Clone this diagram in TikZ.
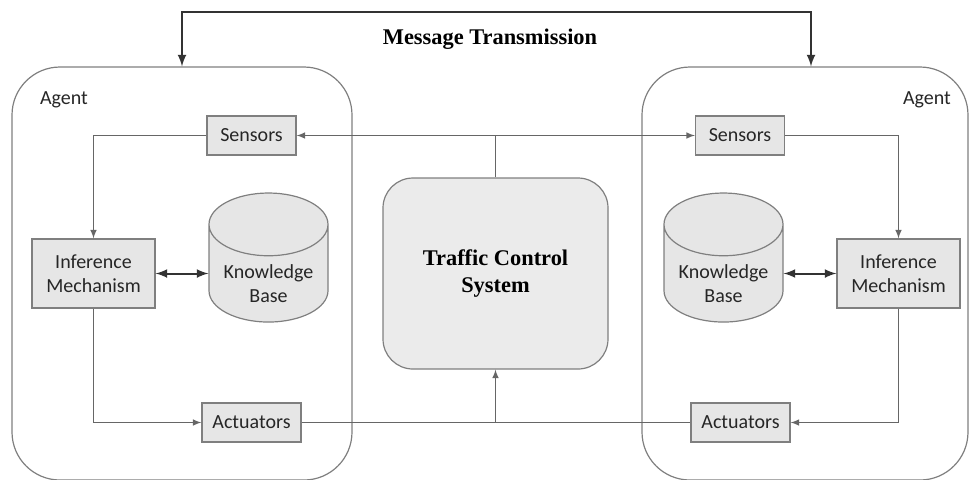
\documentclass[tikz,border=0pt]{standalone}
\usepackage{fontspec}
\setmainfont{Carlito}
\newfontfamily\titlefont{Liberation Serif}
\usepackage{tikz}
\usetikzlibrary{shapes.geometric}

\definecolor{boxfill}{HTML}{E6E6E6}
\definecolor{boxline}{HTML}{7F7F7F}
\definecolor{textgray}{HTML}{262626}

\tikzset{
  agent/.style={draw=boxline, line width=0.6pt, rounded corners=24pt,
    minimum height=206.5pt},
  part/.style={draw=boxline, fill=boxfill, line width=0.6pt, text=textgray,
    font=\fontsize{10}{12}\selectfont, align=center, inner sep=0pt,
    minimum height=19.5pt},
  kbase/.style={cylinder, shape border rotate=90, aspect=0.7, draw=boxline,
    fill=boxfill, line width=0.6pt, text=textgray, align=center,
    font=\fontsize{10}{12}\selectfont, inner sep=0pt,
    minimum width=59.5pt, minimum height=64.5pt},
  tcsbox/.style={draw=boxline, fill=black!8, line width=0.6pt, rounded corners=15pt,
    minimum width=112.5pt, minimum height=95.5pt, align=center,
    font=\titlefont\bfseries\fontsize{11.2}{13.5}\selectfont},
  link/.style={draw=boxline!80!black, line width=0.5pt},
  boldlink/.style={draw=black!80, line width=1pt},
}
\newcommand{\kbtext}{\raisebox{-8.5pt}[0pt][0pt]{\begin{tabular}{@{}c@{}}Knowledge\\Base\end{tabular}}}

\begin{document}
\begin{tikzpicture}[x=0.5pt, y=-0.5pt]
    \useasboundingbox (0,0) rectangle (969,479);
    \clip (0,0) rectangle (969,479);
    % agents
    \node[agent, minimum width=170pt] (agentL) at (182,273.5) {};
    \node[agent, minimum width=163pt] (agentR) at (805,273.5) {};
    \node[text=textgray, font=\fontsize{10}{12}\selectfont] (nameL) at (64,100) {Agent};
    \node[text=textgray, font=\fontsize{10}{12}\selectfont] (nameR) at (927,100) {Agent};

    % left agent
    \node[part, minimum width=44.5pt] (sensL) at (251.5,135.5) {Sensors};
    \node[part, minimum width=61.5pt, minimum height=34.5pt] (infL) at (93.5,273.5) {Inference\\Mechanism};
    \node[kbase] (kbL) at (268.5,273.5) {\kbtext};
    \node[part, minimum width=49.5pt] (actL) at (251.5,422.5) {Actuators};

    % right agent
    \node[part, minimum width=44.5pt] (sensR) at (740,135.5) {Sensors};
    \node[part, minimum width=61.5pt, minimum height=34.5pt] (infR) at (898.5,273.5) {Inference\\Mechanism};
    \node[kbase] (kbR) at (723.5,273.5) {\kbtext};
    \node[part, minimum width=49.5pt] (actR) at (740.5,422.5) {Actuators};

    % centre
    \node[tcsbox] (tcs) at (495.5,273.5) {Traffic Control\\System};
    \node[font=\titlefont\bfseries\fontsize{11.2}{13.5}\selectfont] (msg) at (490,39) {Message Transmission};

    \draw[boldlink, latex-latex] (agentL.north) -- ++(0,-54) -| ([xshift=3pt]agentR.north);

    \draw[link, latex-latex] (sensL) -- (sensR);
    \draw[link] (tcs) -- (tcs |- sensL);
    \draw[link] (actL) -- (actR);
    \draw[link, -latex] (tcs |- actL) -- (tcs);

    \draw[link, -latex] (sensL) -| (infL);
    \draw[link, -latex] (infL) |- (actL);
    \draw[link, -latex] (sensR) -| (infR);
    \draw[link, -latex] (infR) |- (actR);

    \draw[boldlink, latex-latex] (infL) -- (kbL);
    \draw[boldlink, latex-latex] (kbR) -- (infR);
  \end{tikzpicture}
\end{document}
